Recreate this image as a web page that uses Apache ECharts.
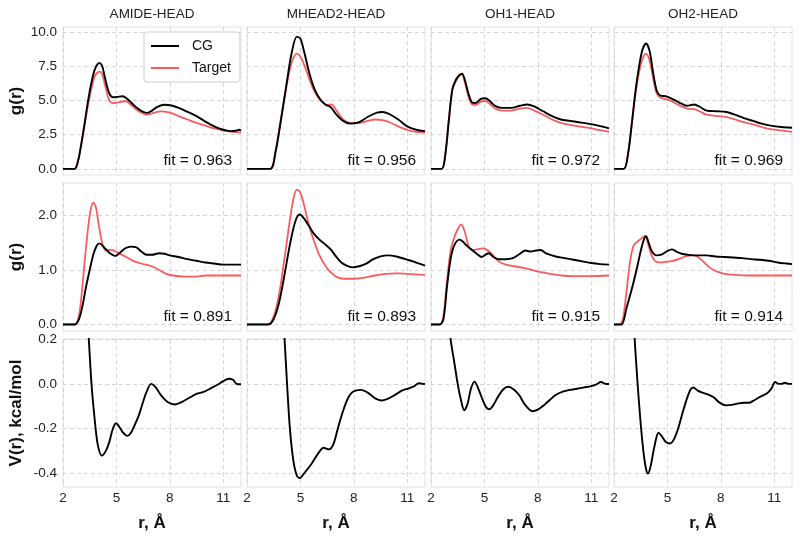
<!DOCTYPE html>
<html><head><meta charset="utf-8">
<script src="https://cdn.jsdelivr.net/npm/echarts@6/dist/echarts.min.js"></script>
<style>html,body{margin:0;padding:0;background:#fff}#c{width:800px;height:540px}</style>
</head><body><div id="c"></div>
<script>
// ---------- DATA ----------
const columns = ['AMIDE-HEAD', 'MHEAD2-HEAD', 'OH1-HEAD', 'OH2-HEAD'];
const seriesNames = ['CG', 'Target'];
const fitRow1 = ['0.963', '0.956', '0.972', '0.969'];
const fitRow2 = ['0.891', '0.893', '0.915', '0.914'];
const xTicks = [2, 5, 8, 11];
const yTicksRow1 = [0, 2.5, 5, 7.5, 10];
const yTicksRow2 = [0, 1, 2];
const yTicksRow3 = [-0.4, -0.2, 0, 0.2];
const rowTitles = ['g(r)', 'g(r)', 'V(r), kcal/mol'];
const xTitle = 'r, Å';

// Row 1: intermolecular g(r)
const amideCG1 = [[2,0],[2.65,0],[2.85,0.6],[3.0,1.6],[3.2,3.2],[3.4,4.9],[3.6,6.3],[3.8,7.3],[4.05,7.72],[4.2,7.5],[4.4,6.4],[4.6,5.5],[4.8,5.22],[5.05,5.25],[5.35,5.3],[5.6,5.12],[5.9,4.75],[6.2,4.4],[6.5,4.15],[6.75,4.08],[7.0,4.25],[7.3,4.52],[7.7,4.68],[8.1,4.62],[8.5,4.45],[9.0,4.15],[9.5,3.85],[10.0,3.45],[10.5,3.1],[11.0,2.85],[11.4,2.75],[11.7,2.78],[11.9,2.85],[12,2.8]];
const amideT1 = [[2,0],[2.65,0],[2.85,0.6],[3.0,1.6],[3.2,3.1],[3.4,4.6],[3.6,5.9],[3.8,6.8],[4.05,7.1],[4.2,6.9],[4.4,5.9],[4.6,5.0],[4.85,4.8],[5.1,4.85],[5.5,4.95],[5.8,4.7],[6.1,4.35],[6.4,4.1],[6.7,3.95],[7.0,4.05],[7.5,4.2],[8.0,4.1],[8.5,3.85],[9.0,3.6],[9.5,3.35],[10.0,3.15],[10.5,2.95],[11.0,2.8],[11.5,2.7],[12,2.65]];
const mheadCG1 = [[2,0],[3.3,0],[3.6,1.2],[3.9,3.5],[4.2,6.0],[4.5,8.4],[4.8,9.65],[5.0,9.5],[5.2,8.6],[5.5,7.0],[5.8,5.8],[6.1,5.1],[6.4,4.7],[6.7,4.5],[7.0,4.0],[7.4,3.5],[7.8,3.3],[8.3,3.4],[8.8,3.8],[9.3,4.1],[9.6,4.15],[10.0,4.0],[10.5,3.6],[11.0,3.1],[11.5,2.85],[12,2.75]];
const mheadT1 = [[2,0],[3.3,0],[3.6,1.3],[3.9,3.6],[4.2,5.9],[4.5,7.7],[4.8,8.4],[5.0,8.2],[5.3,7.3],[5.6,6.2],[5.9,5.4],[6.2,4.9],[6.5,4.65],[6.75,4.7],[7.0,4.3],[7.4,3.6],[7.8,3.35],[8.3,3.35],[8.8,3.5],[9.2,3.6],[9.6,3.55],[10.0,3.4],[10.5,3.1],[11.0,2.85],[11.5,2.7],[12,2.65]];
const oh1CG1 = [[2,0],[2.6,0],[2.8,1.0],[3.0,3.5],[3.2,5.8],[3.4,6.5],[3.6,6.85],[3.75,6.95],[3.9,6.5],[4.1,5.5],[4.3,4.85],[4.5,4.8],[4.8,5.1],[5.05,5.15],[5.3,4.95],[5.6,4.6],[6.0,4.45],[6.5,4.45],[7.0,4.6],[7.4,4.7],[7.8,4.55],[8.3,4.2],[8.8,3.85],[9.3,3.6],[9.8,3.5],[10.3,3.4],[10.8,3.3],[11.4,3.15],[12,2.95]];
const oh1T1 = [[2,0],[2.6,0],[2.8,1.0],[3.0,3.6],[3.2,5.8],[3.4,6.4],[3.6,6.8],[3.75,6.85],[3.9,6.3],[4.1,5.3],[4.3,4.7],[4.5,4.65],[4.8,4.9],[5.05,4.95],[5.3,4.75],[5.6,4.4],[6.0,4.25],[6.5,4.25],[7.0,4.4],[7.4,4.45],[7.8,4.25],[8.3,3.95],[8.8,3.6],[9.3,3.35],[9.8,3.2],[10.3,3.1],[10.8,3.0],[11.4,2.85],[12,2.7]];
const oh2CG1 = [[2,0],[2.55,0],[2.8,1.2],[3.0,3.3],[3.2,5.6],[3.4,7.4],[3.6,8.7],[3.8,9.15],[4.0,8.6],[4.2,7.0],[4.4,5.7],[4.6,5.35],[4.9,5.3],[5.2,5.15],[5.5,4.95],[5.8,4.75],[6.1,4.6],[6.5,4.7],[6.8,4.55],[7.2,4.25],[7.8,4.2],[8.3,4.15],[8.8,3.95],[9.3,3.7],[9.8,3.5],[10.3,3.3],[10.8,3.15],[11.4,3.05],[12,3.0]];
const oh2T1 = [[2,0],[2.55,0],[2.8,1.2],[3.0,3.3],[3.2,5.4],[3.4,7.0],[3.6,8.0],[3.8,8.4],[4.0,7.9],[4.2,6.6],[4.4,5.5],[4.6,5.2],[4.9,5.1],[5.2,4.95],[5.5,4.75],[5.8,4.55],[6.1,4.4],[6.5,4.35],[6.8,4.2],[7.2,3.95],[7.8,3.85],[8.3,3.8],[8.8,3.6],[9.3,3.4],[9.8,3.25],[10.3,3.05],[10.8,2.9],[11.4,2.8],[12,2.7]];

// Row 2: intramolecular g(r)
const amideCG2 = [[2,0],[2.65,0],[2.9,0.1],[3.1,0.35],[3.3,0.7],[3.5,1.0],[3.7,1.28],[3.9,1.45],[4.05,1.49],[4.3,1.42],[4.6,1.32],[4.95,1.26],[5.2,1.32],[5.5,1.4],[5.8,1.43],[6.1,1.42],[6.4,1.34],[6.7,1.28],[7.0,1.28],[7.4,1.31],[7.7,1.3],[8.0,1.27],[8.5,1.24],[9.0,1.2],[9.5,1.17],[10.0,1.14],[10.5,1.12],[11.0,1.1],[12,1.1]];
const amideT2 = [[2,0],[2.65,0],[2.85,0.1],[3.0,0.4],[3.2,1.1],[3.4,1.75],[3.55,2.1],[3.7,2.24],[3.85,2.15],[4.0,1.85],[4.2,1.5],[4.4,1.36],[4.7,1.37],[4.9,1.35],[5.2,1.3],[5.6,1.23],[6.0,1.16],[6.5,1.11],[7.0,1.07],[7.4,1.0],[7.8,0.93],[8.2,0.9],[8.8,0.88],[9.4,0.88],[10.0,0.9],[11,0.9],[12,0.9]];
const mheadCG2 = [[2,0],[3.2,0],[3.5,0.1],[3.8,0.4],[4.1,0.9],[4.4,1.45],[4.7,1.88],[4.95,2.02],[5.2,1.95],[5.5,1.8],[5.8,1.65],[6.1,1.55],[6.4,1.47],[6.7,1.38],[7.0,1.25],[7.3,1.14],[7.6,1.08],[7.9,1.05],[8.3,1.07],[8.7,1.12],[9.1,1.2],[9.5,1.25],[9.9,1.27],[10.4,1.25],[10.9,1.2],[11.4,1.15],[12,1.08]];
const mheadT2 = [[2,0],[3.2,0],[3.5,0.15],[3.8,0.55],[4.1,1.2],[4.4,1.9],[4.6,2.3],[4.8,2.48],[5.0,2.42],[5.2,2.2],[5.5,1.8],[5.8,1.5],[6.1,1.25],[6.4,1.08],[6.7,0.96],[7.0,0.88],[7.4,0.84],[8.0,0.84],[8.6,0.86],[9.2,0.9],[9.8,0.93],[10.4,0.94],[11,0.93],[12,0.91]];
const oh1CG2 = [[2,0],[2.5,0],[2.7,0.1],[2.9,0.7],[3.1,1.2],[3.3,1.45],[3.6,1.56],[3.8,1.52],[4.0,1.45],[4.3,1.37],[4.6,1.29],[4.85,1.24],[5.05,1.28],[5.25,1.31],[5.5,1.24],[5.8,1.2],[6.2,1.2],[6.6,1.22],[7.0,1.3],[7.3,1.36],[7.6,1.34],[7.9,1.36],[8.15,1.37],[8.5,1.3],[9.0,1.25],[9.5,1.22],[10,1.19],[10.5,1.16],[11,1.13],[11.5,1.11],[12,1.1]];
const oh1T2 = [[2,0],[2.5,0],[2.7,0.15],[2.9,0.8],[3.1,1.35],[3.3,1.6],[3.5,1.75],[3.7,1.84],[3.9,1.7],[4.1,1.45],[4.3,1.37],[4.6,1.38],[4.9,1.4],[5.1,1.38],[5.4,1.3],[5.8,1.16],[6.2,1.1],[6.7,1.07],[7.2,1.04],[7.7,1.0],[8.2,0.96],[8.7,0.93],[9.3,0.9],[10,0.89],[11,0.89],[12,0.9]];
const oh2CG2 = [[2,0],[2.42,0],[2.7,0.3],[3.0,0.65],[3.3,1.05],[3.5,1.35],[3.7,1.58],[3.8,1.62],[3.95,1.5],[4.15,1.33],[4.4,1.27],[4.7,1.29],[5.0,1.35],[5.25,1.38],[5.5,1.34],[5.8,1.3],[6.2,1.28],[6.7,1.27],[7.2,1.27],[7.7,1.25],[8.2,1.24],[8.7,1.23],[9.2,1.22],[9.7,1.2],[10.2,1.19],[10.7,1.17],[11.2,1.14],[11.7,1.12],[12,1.11]];
const oh2T2 = [[2,0],[2.3,0],[2.5,0.1],[2.7,0.6],[2.9,1.15],[3.1,1.45],[3.3,1.52],[3.5,1.57],[3.75,1.63],[3.9,1.5],[4.1,1.28],[4.3,1.17],[4.55,1.14],[4.9,1.15],[5.3,1.17],[5.7,1.21],[6.1,1.26],[6.5,1.27],[6.8,1.22],[7.1,1.13],[7.4,1.04],[7.8,0.97],[8.2,0.93],[8.8,0.91],[9.5,0.9],[10.5,0.9],[11.5,0.9],[12,0.9]];

// Row 3: potentials V(r)
const amideV = [[3.3,0.42],[3.45,0.2],[3.6,0.0],[3.77,-0.15],[3.95,-0.27],[4.18,-0.32],[4.4,-0.3],[4.6,-0.26],[4.8,-0.2],[4.98,-0.176],[5.15,-0.19],[5.35,-0.215],[5.6,-0.232],[5.8,-0.22],[6.05,-0.18],[6.28,-0.136],[6.5,-0.08],[6.7,-0.035],[6.95,0.0],[7.2,-0.015],[7.5,-0.05],[7.9,-0.082],[8.3,-0.092],[8.7,-0.08],[9.1,-0.062],[9.5,-0.045],[9.9,-0.036],[10.3,-0.02],[10.7,-0.003],[11.0,0.012],[11.3,0.023],[11.55,0.018],[11.75,0.0],[12,-0.002]];
const mheadV = [[4.0,0.35],[4.11,0.2],[4.25,0.0],[4.41,-0.2],[4.6,-0.34],[4.8,-0.41],[4.97,-0.42],[5.2,-0.4],[5.6,-0.36],[6.0,-0.31],[6.3,-0.285],[6.6,-0.292],[6.85,-0.27],[7.1,-0.2],[7.4,-0.12],[7.7,-0.06],[7.95,-0.035],[8.4,-0.027],[8.8,-0.04],[9.2,-0.065],[9.55,-0.074],[9.9,-0.067],[10.3,-0.05],[10.7,-0.03],[11.1,-0.02],[11.4,-0.01],[11.65,0.003],[11.85,0.0],[12,-0.001]];
const oh1V = [[3.0,0.3],[3.1,0.2],[3.31,0.095],[3.5,0.0],[3.65,-0.06],[3.87,-0.118],[4.05,-0.09],[4.25,-0.02],[4.45,0.01],[4.65,-0.02],[4.92,-0.075],[5.1,-0.105],[5.28,-0.113],[5.5,-0.095],[5.75,-0.06],[6.05,-0.025],[6.35,-0.013],[6.65,-0.025],[6.95,-0.05],[7.3,-0.095],[7.7,-0.122],[8.0,-0.115],[8.35,-0.095],[8.7,-0.07],[9.0,-0.05],[9.4,-0.035],[9.8,-0.027],[10.2,-0.022],[10.6,-0.016],[11.0,-0.01],[11.3,-0.002],[11.55,0.008],[11.8,0.0],[12,-0.001]];
const oh2V = [[3.05,0.35],[3.16,0.2],[3.3,0.03],[3.47,-0.15],[3.65,-0.3],[3.8,-0.38],[3.91,-0.4],[4.05,-0.37],[4.27,-0.28],[4.5,-0.218],[4.7,-0.235],[4.9,-0.258],[5.15,-0.266],[5.35,-0.25],[5.6,-0.2],[5.85,-0.13],[6.1,-0.065],[6.3,-0.025],[6.45,-0.016],[6.7,-0.03],[7.0,-0.04],[7.3,-0.048],[7.6,-0.06],[7.95,-0.085],[8.3,-0.096],[8.6,-0.094],[9.0,-0.087],[9.3,-0.084],[9.6,-0.084],[9.9,-0.072],[10.2,-0.058],[10.6,-0.042],[10.85,-0.02],[11.05,0.008],[11.25,0.0],[11.4,0.0],[11.6,0.005],[11.8,0.0],[12,0.0]];

const row1 = [[amideCG1, amideT1], [mheadCG1, mheadT1], [oh1CG1, oh1T1], [oh2CG1, oh2T1]];
const row2 = [[amideCG2, amideT2], [mheadCG2, mheadT2], [oh1CG2, oh1T2], [oh2CG2, oh2T2]];
const row3 = [amideV, mheadV, oh1V, oh2V];

// ---------- LAYOUT / STYLE ----------
const FONT = '"Liberation Sans", Arial, Helvetica, sans-serif';
const L = [63, 247, 431, 614], W = 178;
const T = [27, 183, 339], H = 148;
const yRanges = [[-0.45, 10.35], [-0.12, 2.6], [-0.46, 0.2]];
const yTicks = [yTicksRow1, yTicksRow2, yTicksRow3];
const BLACK = '#000000', RED = '#f95c60';
const gridLine = { show: true, lineStyle: { color: '#d6d6d6', type: [4, 3], width: 1 } };

const grids = [], xAxes = [], yAxes = [], series = [], graphics = [];
for (let r = 0; r < 3; r++) {
  for (let c = 0; c < 4; c++) {
    const idx = r * 4 + c;
    grids.push({ left: L[c], top: T[r], width: W, height: H, show: true,
      borderColor: '#e2e2e2', borderWidth: 1, backgroundColor: '#fff' });
    xAxes.push({ type: 'value', gridIndex: idx, min: 2, max: 12,
      axisLine: { show: false }, axisTick: { show: false, customValues: xTicks },
      axisLabel: { show: r === 2, customValues: xTicks, margin: 4, fontSize: 13.5,
        color: '#222', fontFamily: FONT },
      splitLine: gridLine });
    yAxes.push({ type: 'value', gridIndex: idx, min: yRanges[r][0], max: yRanges[r][1],
      axisLine: { show: false }, axisTick: { show: false, customValues: yTicks[r] },
      axisLabel: { show: c === 0, customValues: yTicks[r], margin: 6, fontSize: 13.5,
        color: '#222', fontFamily: FONT, formatter: v => Number(v).toFixed(1) },
      splitLine: gridLine });
    if (r < 2) {
      const pair = (r === 0 ? row1 : row2)[c];
      series.push({ name: seriesNames[0], type: 'line', xAxisIndex: idx, yAxisIndex: idx,
        data: pair[0], smooth: 0.3, symbol: 'none', z: 3,
        lineStyle: { color: BLACK, width: 1.9 }, itemStyle: { color: BLACK } });
      series.push({ name: seriesNames[1], type: 'line', xAxisIndex: idx, yAxisIndex: idx,
        data: pair[1], smooth: 0.3, symbol: 'none', z: 2,
        lineStyle: { color: RED, width: 1.8 }, itemStyle: { color: RED } });
      graphics.push({ type: 'text', x: L[c] + W - 9, y: T[r] + H - 14,
        style: { text: 'fit = ' + (r === 0 ? fitRow1 : fitRow2)[c], align: 'right',
          verticalAlign: 'middle', fontSize: 15.5, fontFamily: FONT, fill: '#111' } });
    } else {
      series.push({ name: 'V', type: 'line', xAxisIndex: idx, yAxisIndex: idx,
        data: row3[c], smooth: 0.3, symbol: 'none', clip: true,
        lineStyle: { color: BLACK, width: 1.9 } });
    }
  }
}
for (let c = 0; c < 4; c++) {
  graphics.push({ type: 'text', x: L[c] + W / 2, y: 14,
    style: { text: columns[c], align: 'center', verticalAlign: 'middle', fontSize: 13.5,
      fontFamily: FONT, fill: '#222' } });
  graphics.push({ type: 'text', x: L[c] + W / 2, y: 523,
    style: { text: xTitle, align: 'center', verticalAlign: 'middle', fontSize: 17,
      fontWeight: 'bold', fontFamily: FONT, fill: '#111' } });
}
for (let r = 0; r < 3; r++) {
  graphics.push({ type: 'text', x: 16, y: T[r] + H / 2, rotation: Math.PI / 2,
    style: { text: rowTitles[r], align: 'center', verticalAlign: 'middle', fontSize: 17,
      fontWeight: 'bold', fontFamily: FONT, fill: '#111' } });
}

const chart = echarts.init(document.getElementById('c'), null, { renderer: 'canvas' });
chart.setOption({
  backgroundColor: '#fff',
  animation: false,
  grid: grids, xAxis: xAxes, yAxis: yAxes, series: series,
  legend: { data: seriesNames, left: 144, top: 32, orient: 'vertical', icon: 'rect',
    itemWidth: 28, itemHeight: 2, itemGap: 8, padding: [7, 9, 7, 7],
    borderColor: '#cfcfcf', borderWidth: 1, borderRadius: 3, backgroundColor: '#fff',
    textStyle: { fontSize: 14, fontFamily: FONT, color: '#111', padding: [0, 0, 0, 8] } },
  graphic: graphics
});
</script></body></html>
